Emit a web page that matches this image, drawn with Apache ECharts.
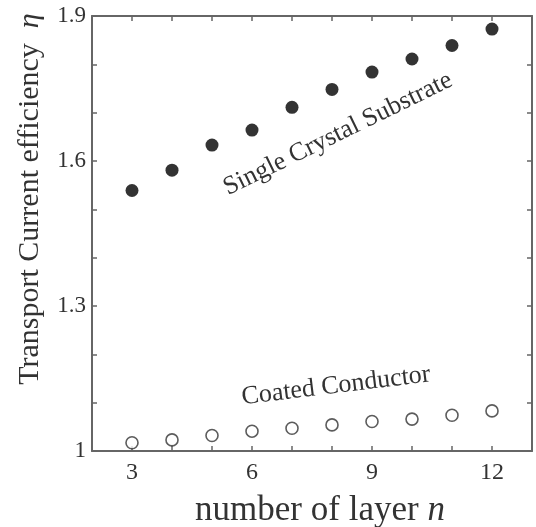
<!DOCTYPE html>
<html>
<head>
    <meta charset="utf-8">
    <script src="https://cdn.jsdelivr.net/npm/echarts@6/dist/echarts.min.js"></script>
    <style>
        html, body { margin: 0; padding: 0; background: #fff; }
    </style>
</head>
<body>

<div id="main" style="width: 536px;height:527px;"></div>

<script type="text/javascript">

    // data
    var layers = [3, 4, 5, 6, 7, 8, 9, 10, 11, 12];
    var singleCrystal = [1.539, 1.581, 1.633, 1.664, 1.711, 1.748, 1.784, 1.811, 1.839, 1.873];
    var coatedConductor = [1.017, 1.023, 1.032, 1.041, 1.047, 1.054, 1.061, 1.066, 1.074, 1.083];
    var xTickLabels = [3, 6, 9, 12];
    var yTickLabels = ['1', '1.3', '1.6', '1.9'];

    var serif = '"Liberation Serif", "DejaVu Serif", serif';
    var axisColor = '#666';
    var textColor = '#333';

    function pairs(xs, ys) {
        return xs.map(function (x, i) { return [x, ys[i]]; });
    }

    var myChart = echarts.init(document.getElementById('main'));

    var lineStyle = { color: axisColor, width: 2 };
    var tickStyle = { show: true, inside: true, length: 5, lineStyle: { color: axisColor, width: 1.5 } };

    var option = {
        animation: false,
        grid: { left: 92, right: 4, top: 16, bottom: 76 },
        xAxis: [
            {
                type: 'value', min: 2, max: 13, interval: 1,
                axisLine: { lineStyle: lineStyle },
                axisTick: tickStyle,
                splitLine: { show: false },
                axisLabel: {
                    margin: 10,
                    fontFamily: serif, fontSize: 24, color: textColor,
                    formatter: function (v) {
                        return xTickLabels.indexOf(v) >= 0 ? String(v) : '';
                    }
                }
            },
            {
                type: 'value', position: 'top', min: 2, max: 13, interval: 1,
                axisLine: { lineStyle: lineStyle },
                axisTick: tickStyle,
                splitLine: { show: false },
                axisLabel: { show: false }
            }
        ],
        yAxis: [
            {
                type: 'value', min: 1, max: 1.9, interval: 0.1,
                axisLine: { show: true, lineStyle: lineStyle },
                axisTick: tickStyle,
                splitLine: { show: false },
                axisLabel: {
                    margin: 6,
                    fontFamily: serif, fontSize: 23, color: textColor,
                    formatter: function (v) {
                        var s = String(Math.round(v * 10) / 10);
                        return yTickLabels.indexOf(s) >= 0 ? s : '';
                    }
                }
            },
            {
                type: 'value', position: 'right', min: 1, max: 1.9, interval: 0.1,
                axisLine: { show: true, lineStyle: lineStyle },
                axisTick: tickStyle,
                splitLine: { show: false },
                axisLabel: { show: false }
            }
        ],
        graphic: [
            {
                type: 'text', x: 30, y: 199, rotation: Math.PI / 2,
                style: {
                    text: 'Transport Current efficiency  {i|η}',
                    font: '30px ' + serif, fill: textColor,
                    align: 'center', verticalAlign: 'middle',
                    rich: { i: { fontStyle: 'italic', fontSize: 30, fontFamily: serif, fill: textColor } }
                }
            },
            {
                type: 'text', x: 320, y: 511,
                style: {
                    text: 'number of layer {i|n}',
                    font: '35px ' + serif, fill: textColor,
                    align: 'center', verticalAlign: 'middle',
                    rich: { i: { fontStyle: 'italic', fontSize: 35, fontFamily: serif, fill: textColor } }
                }
            },
            {
                type: 'text', x: 338, y: 134, rotation: 26 * Math.PI / 180,
                style: {
                    text: 'Single Crystal Substrate',
                    font: '26px ' + serif, fill: textColor,
                    align: 'center', verticalAlign: 'middle'
                }
            },
            {
                type: 'text', x: 336, y: 386, rotation: 7 * Math.PI / 180,
                style: {
                    text: 'Coated Conductor',
                    font: '26px ' + serif, fill: textColor,
                    align: 'center', verticalAlign: 'middle'
                }
            }
        ],
        series: [
            {
                name: 'Single Crystal Substrate',
                type: 'scatter',
                symbol: 'circle',
                symbolSize: 13,
                itemStyle: { color: '#000' },
                data: pairs(layers, singleCrystal)
            },
            {
                name: 'Coated Conductor',
                type: 'scatter',
                symbol: 'circle',
                symbolSize: 12,
                itemStyle: { color: '#fff', borderColor: '#333', borderWidth: 1.6 },
                data: pairs(layers, coatedConductor)
            }
        ]
    };

    myChart.setOption(option);
</script>

</body>
</html>
